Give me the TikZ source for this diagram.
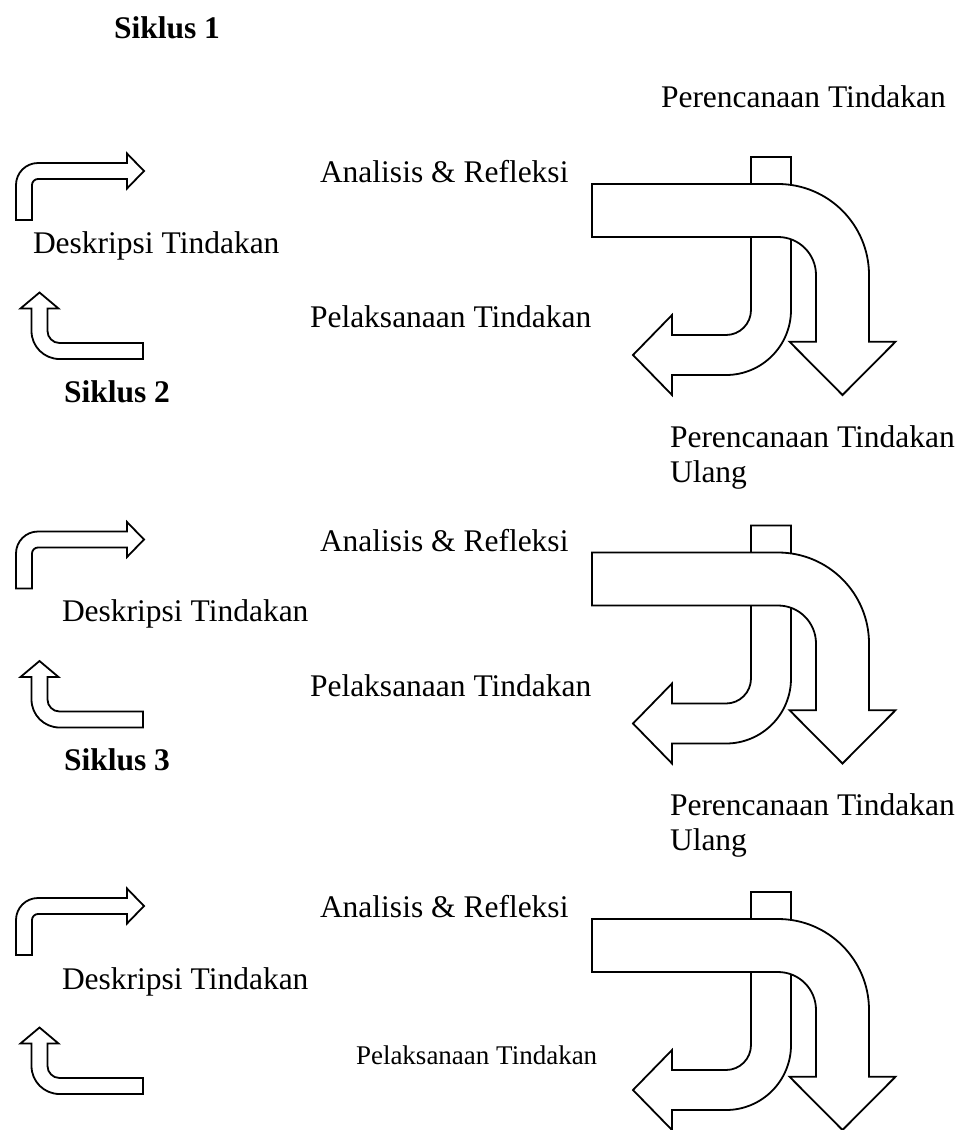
\documentclass[tikz,border=0pt]{standalone}
\usepackage{fontspec}
\setmainfont{Liberation Serif}
\begin{document}
\begin{tikzpicture}[x=1pt,y=-1pt,
  shp/.style={draw=black,fill=white,line width=1.8pt,line join=miter},
  lbl/.style={anchor=base west,inner sep=0pt,outer sep=0pt,font=\fontsize{31.5}{35}\selectfont},
  lblb/.style={lbl,font=\fontsize{31.5}{35}\selectfont\bfseries},
  lbls/.style={anchor=base west,inner sep=0pt,outer sep=0pt,font=\fontsize{27}{30}\selectfont}]
\useasboundingbox (0,0) rectangle (964,1130);

\foreach \off/\sec in {0/a,368.5/b,735/c}{
\begin{scope}[shift={(0,\off)}]
  % small up-right arrow
  \draw[shp] (16,220) -- (16,185) arc[start angle=180,end angle=90,radius=22pt]
    -- (127,163) -- (127,153.5) -- (144,171) -- (127,188.5) -- (127,179) -- (38,179)
    arc[start angle=90,end angle=180,radius=6pt] -- (32,220) -- cycle;
  % small up arrow
  \draw[shp] (143,343) -- (143,359) -- (59.5,359)
    arc[start angle=270,end angle=180,radius=28pt] -- (31.5,308.5) -- (20.5,308.5)
    -- (39.5,292.5) -- (58.5,308.5) -- (47.5,308.5) -- (47.5,331)
    arc[start angle=180,end angle=270,radius=12pt] -- cycle;
  % down-left arrow (behind)
  \draw[shp] (751,157) -- (791,157) -- (791,310)
    arc[start angle=0,end angle=-90,radius=65pt] -- (672,375) -- (672,395)
    -- (633,355) -- (672,315) -- (672,335) -- (726,335)
    arc[start angle=-90,end angle=0,radius=25pt] -- cycle;
  % big right-down arrow
  \draw[shp] (592,184) -- (778,184) arc[start angle=90,end angle=0,radius=91pt]
    -- (869,341.7) -- (895.5,341.7) -- (842.5,395) -- (789.5,341.7) -- (816,341.7)
    -- (816,275) arc[start angle=0,end angle=90,radius=38pt] -- (592,237) -- cycle;
\end{scope}
}

% Section 1
\node[lblb] (s1) at (114,38) {Siklus 1};
\node[lbl] (p1) at (661,107) {Perencanaan Tindakan};
\node[lbl] (a1) at (320,182) {Analisis \& Refleksi};
\node[lbl] (d1) at (33,253) {Deskripsi Tindakan};
\node[lbl] (l1) at (310,327) {Pelaksanaan Tindakan};
\node[lblb] (s2) at (64,402) {Siklus 2};

% Section 2
\node[lbl,align=left] (p2) at (670,482) {Perencanaan Tindakan\\Ulang};
\node[lbl] (a2) at (320,551) {Analisis \& Refleksi};
\node[lbl] (d2) at (62,621) {Deskripsi Tindakan};
\node[lbl] (l2) at (310,696) {Pelaksanaan Tindakan};
\node[lblb] (s3) at (64,770) {Siklus 3};

% Section 3
\node[lbl,align=left] (p3) at (670,850) {Perencanaan Tindakan\\Ulang};
\node[lbl] (a3) at (320,917) {Analisis \& Refleksi};
\node[lbl] (d3) at (62,989) {Deskripsi Tindakan};
\node[lbls] (l3) at (356,1064) {Pelaksanaan Tindakan};
\end{tikzpicture}
\end{document}
